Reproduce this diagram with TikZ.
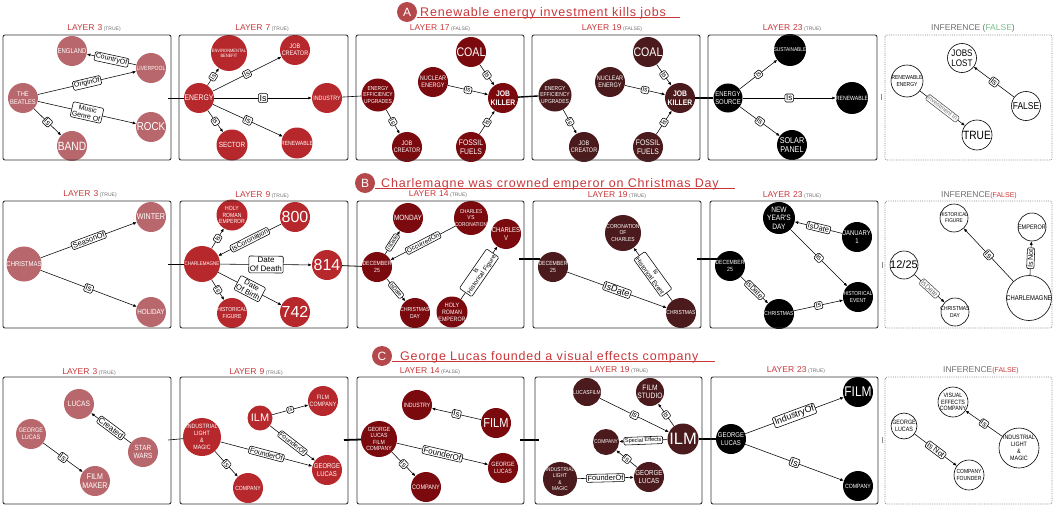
\documentclass[tikz,border=0pt]{standalone}
\usepackage{fontspec}
\setmainfont{Liberation Sans}
\newfontfamily\nar[FakeStretch=0.85]{Liberation Sans}
\newfontfamily\ttlfont[LetterSpace=6.5]{Liberation Sans}
\usetikzlibrary{arrows.meta}
\definecolor{cA}{RGB}{184,104,108}
\definecolor{cB}{RGB}{183,40,44}
\definecolor{cC}{RGB}{122,10,14}
\definecolor{cD}{RGB}{75,26,28}
\definecolor{lr}{RGB}{200,55,58}
\definecolor{cir}{RGB}{181,72,75}
\definecolor{tg}{RGB}{110,110,110}
\definecolor{fg}{RGB}{120,190,140}
\newcommand\F[1]{\nar\fontsize{#1}{\fpeval{1.1*#1}}\selectfont}
\newcommand\G[1]{\fontsize{#1}{\fpeval{1.1*#1}}\selectfont}
\newcommand\LL[2]{\textcolor{lr}{LAYER\hspace{3pt}#1}\hspace{1.5pt}{\fontsize{5}{5}\selectfont\textcolor{tg}{(#2)}}}
\tikzset{
  kn/.style={circle,inner sep=-4pt,align=center,text=white,minimum size=30pt},
  nA/.style={kn,fill=cA}, nB/.style={kn,fill=cB}, nC/.style={kn,fill=cC},
  nD/.style={kn,fill=cD}, nE/.style={kn,fill=black},
  nI/.style={kn,draw=black,fill=white,text=black,line width=0.6pt},
  fs/.style={font=\F{#1}},
  gs/.style={font=\G{#1}},
  sz/.style={minimum size=#1pt},
  ed/.style={-{Latex[length=3.5pt,width=3pt]},line width=0.55pt,black},
  lb/.style={draw,fill=white,rounded corners=1.2pt,inner sep=1.2pt,sloped,font=\G{#1},line width=0.55pt,text=black,align=center},
  lb/.default=7,
  lbg/.style={lb=#1,text=tg,draw=black!70},
  lbg/.default=6,
  pan/.style={draw=black!80,line width=0.9pt,rounded corners=2pt},
  pani/.style={draw=black!45,line width=0.8pt,densely dotted,rounded corners=2pt},
  lay/.style={font=\G{8.5},inner sep=0pt},
  cn/.style={line width=#1,black},
  gbar/.style={draw=black!45,line width=0.8pt},
  ttlc/.style={circle,fill=cir,minimum size=20pt,inner sep=0pt,text=white,font=\G{12}},
  ttlt/.style={anchor=base west,inner sep=0pt,text=lr,font=\ttlfont\fontsize{12.5}{12.5}\selectfont},
  ul/.style={draw=lr,line width=1.1pt}
}
\begin{document}
\begin{tikzpicture}[x=1pt,y=-1pt]
\useasboundingbox (0,0) rectangle (1053,506);
% ================= TITLES =================
\node[ttlc] (ta) at (407,12) {A};
\node[ttlt] (tta) at (420,16.5) {Renewable energy investment kills jobs};
\coordinate (ua) at (680,17.5);
\draw[ul] (ta.east |- ua) -- (ua);
\node[ttlc] (tb) at (365,183) {B};
\node[ttlt] (ttb) at (381,187) {Charlemagne was crowned emperor on Christmas Day};
\coordinate (ub) at (735,188.5);
\draw[ul] (tb.east |- ub) -- (ub);
\node[ttlc] (tc) at (382,356) {C};
\node[ttlt] (ttc) at (400,360) {George Lucas founded a visual effects company};
\coordinate (uc) at (715,361.5);
\draw[ul] (tc.east |- uc) -- (uc);
% ================= PANEL LABELS =================
\node[lay] (L11) at (94,28) {\LL{3}{TRUE}};
\node[lay] (L12) at (262,28) {\LL{7}{TRUE}};
\node[lay] (L13) at (440,28) {\LL{17}{FALSE}};
\node[lay] (L14) at (612,28) {\LL{19}{FALSE}};
\node[lay] (L15) at (792,28) {\LL{23}{TRUE}};
\node[lay] (L16) at (973,28) {\textcolor{tg}{INFERENCE (}\textcolor{fg}{FALSE}\textcolor{tg}{)}};
\node[lay] (L21) at (90,194) {\LL{3}{TRUE}};
\node[lay] (L22) at (262,195) {\LL{9}{TRUE}};
\node[lay] (L23) at (438,194) {\LL{14}{TRUE}};
\node[lay] (L24) at (617,195) {\LL{19}{TRUE}};
\node[lay] (L25) at (792,195) {\LL{23}{TRUE}};
\node[lay] (L26) at (979,195) {\textcolor{tg}{INFERENCE}\textcolor{lr}{\G{7}(FALSE)}};
\node[lay] (L31) at (89,372) {\LL{3}{TRUE}};
\node[lay] (L32) at (256,372) {\LL{9}{TRUE}};
\node[lay] (L33) at (430,371) {\LL{14}{FALSE}};
\node[lay] (L34) at (619,370) {\LL{19}{TRUE}};
\node[lay] (L35) at (796,370) {\LL{23}{TRUE}};
\node[lay] (L36) at (981,370) {\textcolor{tg}{INFERENCE}\textcolor{lr}{\G{7}(FALSE)}};
% ================= ROW 1 NODES =================
\node[nA,fs=7] (a1) at (72,51) {ENGLAND};
\node[nA,fs=6] (a2) at (151,68) {LIVERPOOL};
\node[nA,fs=6.8] (a3) at (23,98) {THE\\BEATLES};
\node[nA,fs=11.5] (a4) at (151,127) {ROCK};
\node[nA,fs=12] (a5) at (72,146) {BAND};
\node[nB,sz=36,fs=4.7] (b1) at (229,53) {ENVIRONMENTAL\\BENEFIT};
\node[nB,fs=6.5] (b2) at (295,50) {JOB\\CREATOR};
\node[nB,fs=8] (b3) at (199,98) {ENERGY};
\node[nB,fs=6.3] (b4) at (327,98) {INDUSTRY};
\node[nB,sz=31,fs=7.5] (b5) at (232,145) {SECTOR};
\node[nB,sz=31,fs=6] (b6) at (297,143) {RENEWABLE};
\node[nC,fs=12.5] (c1) at (471,52) {COAL};
\node[nC,fs=6.5] (c2) at (433,82) {NUCLEAR\\ENERGY};
\node[nC,font=\F{8}\bfseries] (c3) at (503,98) {JOB\\KILLER};
\node[nC,sz=33,fs=5.8] (c4) at (378,95) {ENERGY\\EFFICIENCY\\UPGRADES};
\node[nC,fs=6.5] (c5) at (407,147) {JOB\\CREATOR};
\node[nC,fs=8] (c6) at (471,147) {FOSSIL\\FUELS};
\node[nD,fs=12.5] (d1) at (648,52) {COAL};
\node[nD,fs=6.5] (d2) at (610,82) {NUCLEAR\\ENERGY};
\node[nD,font=\F{8}\bfseries] (d3) at (680,98) {JOB\\KILLER};
\node[nD,sz=33,fs=5.8] (d4) at (555,95) {ENERGY\\EFFICIENCY\\UPGRADES};
\node[nD,fs=6.5] (d5) at (584,147) {JOB\\CREATOR};
\node[nD,fs=8] (d6) at (648,147) {FOSSIL\\FUELS};
\node[nE,sz=32,fs=5.6] (e1) at (790,50) {SUSTAINABLE};
\node[nE,sz=29,fs=7] (e2) at (728,98) {ENERGY\\SOURCE};
\node[nE,sz=32,fs=6.1] (e3) at (852,98) {RENEWABLE};
\node[nE,fs=8.5] (e4) at (792,145) {SOLAR\\PANEL};
\node[nI,sz=29,fs=9.5] (f1) at (962,58) {JOBS\\LOST};
\node[nI,sz=32,fs=5.8] (f2) at (907,81) {RENEWABLE\\ENERGY};
\node[nI,sz=29,fs=10] (f3) at (1026,106) {FALSE};
\node[nI,sz=30,fs=12] (f4) at (977,135) {TRUE};
% ================= ROW 1 EDGES =================
\draw[ed] (a2) -- node[lb] {CountryOf} (a1);
\draw[ed] (a3) -- node[lb] {OriginOf} (a2);
\draw[ed] (a3) -- node[lb] {Music\\Genre Of} (a4);
\draw[ed] (a3) -- node[lb=7.5] {Is} (a5);
\draw[ed] (b3) -- node[lb=6.5] {Is} (b1);
\draw[ed] (b3) -- node[lb] {Is} (b2);
\draw[ed] (b3) -- node[lb=9] {Is} (b4);
\draw[ed] (b3) -- node[lb=6.5] {Is} (b5);
\draw[ed] (b3) -- node[lb=8] {Is} (b6);
\draw[ed] (c1) -- node[lb=6.5] {Is} (c3);
\draw[ed] (c2) -- node[lb=6.5] {Is} (c3);
\draw[ed] (c6) -- node[lb=6.5] {Is} (c3);
\draw[ed] (c4) -- node[lb=6.5] {Is} (c5);
\draw[ed] (d1) -- node[lb=6.5] {Is} (d3);
\draw[ed] (d2) -- node[lb=6.5] {Is} (d3);
\draw[ed] (d6) -- node[lb=6.5] {Is} (d3);
\draw[ed] (d4) -- node[lb=6.5] {Is} (d5);
\draw[ed] (e2) -- node[lb=6.5] {Is} (e1);
\draw[ed] (e2) -- node[lb=8] {Is} (e3);
\draw[ed] (e2) -- node[lb=7.5] {Is} (e4);
\draw[ed] (f3) -- node[lb=8] {Is} (f1);
\draw[ed] (f2) -- node[lbg=6] {Investment In} (f4);
% ================= ROW 2 NODES =================
\node[nA,fs=8.4] (g1) at (151,217) {WINTER};
\node[nA,sz=35,fs=7] (g2) at (24,264) {CHRISTMAS};
\node[nA,fs=7.4] (g3) at (151,312) {HOLIDAY};
\node[nB,sz=31,fs=6] (h1) at (232,215) {HOLY\\ROMAN\\EMPEROR};
\node[nB,gs=16] (h2) at (295,217) {800};
\node[nB,sz=36,fs=5.3] (h3) at (202,264) {CHARLEMAGNE};
\node[nB,gs=16] (h4) at (327,265) {814};
\node[nB,fs=5.8] (h5) at (232,313) {HISTORICAL\\FIGURE};
\node[nB,gs=16] (h6) at (295,312) {742};
\node[nC,fs=7.6] (i1) at (408,218) {MONDAY};
\node[nC,sz=34,fs=5.6] (i2) at (471,218) {CHARLES\\V'S\\CORONATION};
\node[nC,fs=7] (i3) at (506,234) {CHARLES\\V};
\node[nC,fs=6] (i4) at (377,267) {DECEMBER\\25};
\node[nC,fs=5.8] (i5) at (415,313) {CHRISTMAS\\DAY};
\node[nC,sz=31,fs=6.3] (i6) at (452,312) {HOLY\\ROMAN\\EMPEROR};
\node[nD,sz=36,fs=5.8] (j1) at (623,233) {CORONATION\\OF\\CHARLES};
\node[nD,fs=6] (j2) at (553,267) {DECEMBER\\25};
\node[nD,fs=5.8] (j3) at (681,313) {CHRISTMAS};
\node[nE,sz=32,fs=7.8] (k1) at (779,218) {NEW\\YEAR'S\\DAY};
\node[nE,fs=7] (k2) at (857,237) {JANUARY\\1};
\node[nE,fs=6] (k3) at (730,266) {DECEMBER\\25};
\node[nE,fs=5.8] (k4) at (779,314) {CHRISTMAS};
\node[nE,fs=5.7] (k5) at (858,297) {HISTORICAL\\EVENT};
\node[nI,sz=28,fs=5.5] (l1) at (954,218) {HISTORICAL\\FIGURE};
\node[nI,sz=28,fs=6.5] (l2) at (1032,227) {EMPEROR};
\node[nI,sz=28,gs=11] (l3) at (904,265) {12/25};
\node[nI,sz=28,fs=5.8] (l4) at (955,312) {CHRISTMAS\\DAY};
\node[nI,sz=45,fs=6.9] (l5) at (1029,298) {CHARLEMAGNE};
% ================= ROW 2 EDGES =================
\draw[ed] (g2) -- node[lb=7.5] {SeasonOf} (g1);
\draw[ed] (g2) -- node[lb=8] {Is} (g3);
\draw[ed] (h3) -- node[lb=6.5] {Is} (h1);
\draw[ed] (h2) -- node[lb=7] {IsCoronation} (h3);
\draw[ed] (h3) -- node[lb=8] {Date\\Of Death} (h4);
\draw[ed] (h3) -- node[lb=6.5] {Is} (h5);
\draw[ed] (h3) -- node[lb=7.5] {Date\\Of Birth} (h6);
\draw[ed] (i4) -- node[lb=5.5] {IsDate} (i1);
\draw[ed] (i2) -- node[lb=6.5] {OccurredOn} (i4);
\draw[ed] (i4) -- node[lb=5.5] {IsDate} (i5);
\draw[ed] (i6) -- node[lb=6.3] {Is\\Historical Figure} (i3);
\draw[ed] (j2) -- node[lb=9] {IsDate} (j3);
\draw[ed] (j3) -- node[lb=6.3] {Is\\Historical Event} (j1);
\draw[ed] (k2) -- node[lb=7.5] {IsDate} (k1);
\draw[ed] (k1) -- node[lb] {Is} (k5);
\draw[ed] (k3) -- node[lb] {IsDate} (k4);
\draw[ed] (k4) -- node[lb] {Is} (k5);
\draw[ed] (l5) -- node[lb=8] {Is} (l1);
\draw[ed] (l5) -- node[lb] {Is Not} (l2);
\draw[ed] (l3) -- node[lbg=7] {IsDate} (l4);
% ================= ROW 3 NODES =================
\node[nA,fs=7.8] (m1) at (79,404) {LUCAS};
\node[nA,fs=6.5] (m2) at (31,434) {GEORGE\\LUCAS};
\node[nA,fs=7.5] (m3) at (143,452) {STAR\\WARS};
\node[nA,fs=8.3] (m4) at (95,481) {FILM\\MAKER};
\node[nB,fs=6.3] (n1) at (323,401) {FILM\\COMPANY};
\node[nB,sz=25,gs=11] (n2) at (260,418) {ILM};
\node[nB,sz=38,fs=6.2] (n3) at (202,437) {INDUSTRIAL\\LIGHT\\\&\\MAGIC};
\node[nB,fs=7] (n4) at (327,470) {GEORGE\\LUCAS};
\node[nB,fs=6] (n5) at (248,488) {COMPANY};
\node[nC,fs=6.2] (o1) at (417,405) {INDUSTRY};
\node[nC,fs=13] (o2) at (496,423) {FILM};
\node[nC,sz=36,fs=6] (o3) at (379,439) {GEORGE\\LUCAS\\FILM\\COMPANY};
\node[nC,fs=6.2] (o4) at (503,468) {GEORGE\\LUCAS};
\node[nC,fs=6.5] (o5) at (426,487) {COMPANY};
\node[nD,sz=28,fs=5.8] (p1) at (587,392) {LUCASFILM};
\node[nD,sz=28,fs=7.8] (p2) at (650,392) {FILM\\STUDIO};
\node[nD,sz=31,gs=16.5] (p3) at (683,439) {ILM};
\node[nD,sz=26,fs=5.6] (p4) at (606,442) {COMPANY};
\node[nD,sz=34,fs=5.6] (p5) at (560,479) {INDUSTRIAL\\LIGHT\\\&\\MAGIC};
\node[nD,fs=7.3] (p6) at (649,477) {GEORGE\\LUCAS};
\node[nE,fs=14] (q1) at (858,392) {FILM};
\node[nE,fs=7] (q2) at (731,439) {GEORGE\\LUCAS};
\node[nE,fs=6.1] (q3) at (858,486) {COMPANY};
\node[nI,sz=30,fs=6.2] (r1) at (953,402) {VISUAL\\EFFECTS\\COMPANY};
\node[nI,sz=26,fs=6.3] (r2) at (904,426) {GEORGE\\LUCAS};
\node[nI,sz=40,fs=6.3] (r3) at (1019,448) {INDUSTRIAL\\LIGHT\\\&\\MAGIC};
\node[nI,sz=30,fs=5.9] (r4) at (969,475) {COMPANY\\FOUNDER};
% ================= ROW 3 EDGES =================
\draw[ed] (m3) -- node[lb=8] {Created} (m1);
\draw[ed] (m2) -- node[lb=8] {Is} (m4);
\draw[ed] (n2) -- node[lb=5.5] {Is} (n1);
\draw[ed] (n2) -- node[lb=6.5] {FounderOf} (n4);
\draw[ed] (n3) -- node[lb] {FounderOf} (n4);
\draw[ed] (n3) -- node[lb] {Is} (n5);
\draw[ed] (o2) -- node[lb=8] {Is} (o1);
\draw[ed] (o3) -- node[lb=8] {FounderOf} (o4);
\draw[ed] (o3) -- node[lb] {Is} (o5);
\draw[ed] (p1) -- node[lb] {Is} (p3);
\draw[ed] (p3) -- node[lb=6.5] {Is} (p2);
\draw[ed] (p3) -- node[lb=5.5] {Special Effects} (p4);
\draw[ed] (p6) -- node[lb] {Is} (p4);
\draw[ed] (p5) -- node[lb=7.5] {FounderOf} (p6);
\draw[ed] (q2) -- node[lb=9] {IndustryOf} (q1);
\draw[ed] (q2) -- node[lb=9] {Is} (q3);
\draw[ed] (r3) -- node[lb=7.5] {Is} (r1);
\draw[ed] (r2) -- node[lb=7.5] {Is Not} (r4);
% ================= CONNECTORS BETWEEN PANELS =================
\coordinate (k11) at (168,98);
\draw[cn=0.6pt] (k11) -- (b3);
\draw[cn=0.6pt] (b4) -- (c4);
\draw[cn=1.4pt] (c3) -- (d4);
\draw[cn=1.8pt] (d3) -- (e2);
\coordinate (v1a) at (881,94); \coordinate (v1b) at (881,100);
\draw[gbar] (v1a) -- (v1b);
\coordinate (k21) at (168,264);
\draw[cn=0.6pt] (k21) -- (h3);
\draw[cn=0.8pt] (h4) -- (i4);
\coordinate (k23a) at (519,259); \coordinate (k23b) at (540,259);
\draw[cn=1.8pt] (k23a) -- (k23b);
\coordinate (k24a) at (697,259); \coordinate (k24b) at (717,259);
\draw[cn=1.8pt] (k24a) -- (k24b);
\coordinate (v2a) at (882,262); \coordinate (v2b) at (882,268);
\draw[gbar] (v2a) -- (v2b);
\coordinate (k31) at (168,440);
\draw[cn=0.6pt] (k31) -- (n3);
\coordinate (k32) at (344,440);
\draw[cn=1.8pt] (k32) -- (o3);
\coordinate (k33a) at (520,440); \coordinate (k33b) at (539,440);
\draw[cn=1.8pt] (k33a) -- (k33b);
\draw[cn=1.8pt] (p3) -- (q2);
\coordinate (v3a) at (882,437); \coordinate (v3b) at (882,443);
\draw[gbar] (v3a) -- (v3b);
% ================= PANELS =================
\draw[pan] (3,35) rectangle (171,160);
\draw[pan] (179,35) rectangle (348,160);
\draw[pan] (356,35) rectangle (524,160);
\draw[pan] (532,35) rectangle (700,160);
\draw[pan] (708,35) rectangle (877,160);
\draw[pani] (885,35) rectangle (1052,160);
\draw[pan] (3,201) rectangle (171,328);
\draw[pan] (180,201) rectangle (348,328);
\draw[pan] (357,201) rectangle (524,328);
\draw[pan] (533,201) rectangle (701,328);
\draw[pan] (710,201) rectangle (878,328);
\draw[pani] (885,201) rectangle (1052,328);
\draw[pan] (3,377) rectangle (171,504);
\draw[pan] (180,377) rectangle (348,504);
\draw[pan] (357,377) rectangle (524,504);
\draw[pan] (535,377) rectangle (702,504);
\draw[pan] (711,377) rectangle (878,504);
\draw[pani] (885,377) rectangle (1052,504);
\end{tikzpicture}
\end{document}
